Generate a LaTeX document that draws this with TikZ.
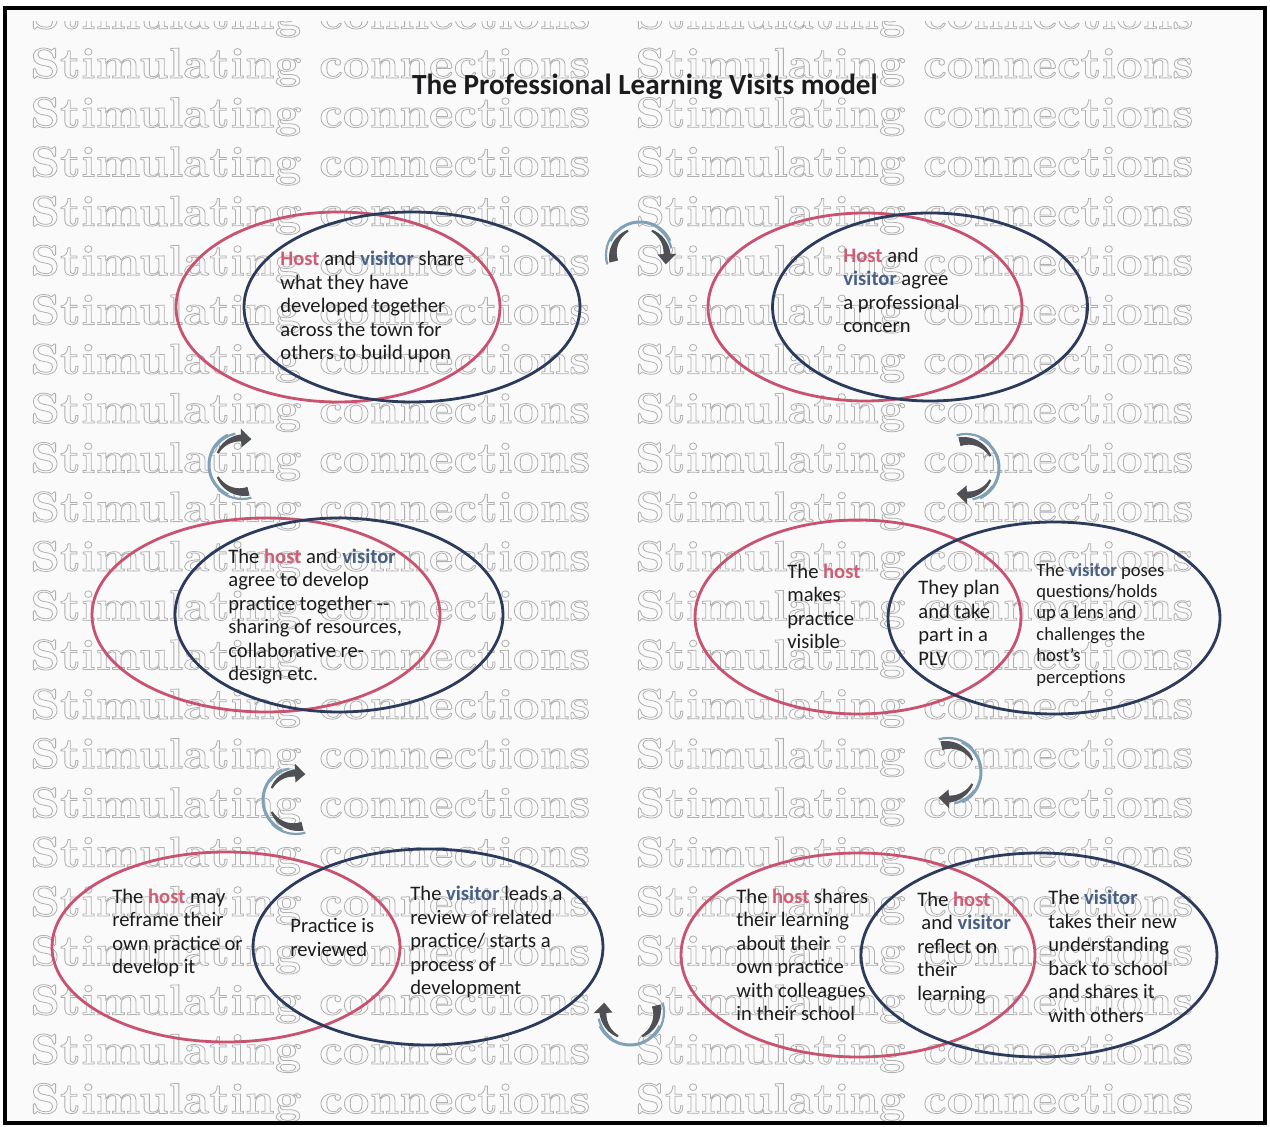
\documentclass[tikz,border=0pt]{standalone}
\usepackage{fontspec}
\usepackage{graphicx}
\usetikzlibrary{shapes.geometric,arrows.meta}
\newfontfamily\calfont{Carlito}

\definecolor{ringpink}{RGB}{201,82,112}
\definecolor{ringblue}{RGB}{44,58,92}
\definecolor{hostpink}{RGB}{208,92,118}
\definecolor{visblue}{RGB}{72,96,132}
\definecolor{inkblack}{RGB}{28,28,30}
\definecolor{wmgray}{RGB}{176,176,176}
\definecolor{arrdark}{RGB}{78,80,84}
\definecolor{arrlight}{RGB}{128,160,182}
\definecolor{paper}{RGB}{250,250,250}

% coloured key words
\newcommand\hostw[1]{{\bfseries\color{hostpink}#1}}
\newcommand\visw[1]{{\bfseries\color{visblue}#1}}
% stroked (hollow) lettering for the background band
\newcommand\hollowtext[1]{\special{pdf:literal direct 0.18 w 1 Tr}#1\special{pdf:literal direct 0 Tr}}

\tikzset{
  pinkring/.style={ellipse, draw=ringpink, line width=1.4pt, inner sep=0pt},
  bluering/.style={ellipse, draw=ringblue, line width=1.4pt, inner sep=0pt},
  body/.style={font=\calfont\fontsize{10.3}{11.75}\selectfont, align=left,
               inner sep=0pt, anchor=west, text=inkblack},
  smallbody/.style={body, font=\calfont\fontsize{9.3}{10.7}\selectfont},
  wmrow/.style={anchor=base west, inner sep=0pt, text=wmgray},
  % a half-turn ribbon arrow: tail at the upper right, head at the upper left
  cyclearrow/.pic={
    \draw[arrlight, line width=1.5pt] (205:33) arc (205:335:33);
    \draw[arrlight, line width=1.1pt] (16:34) arc (16:-45:34);
    \draw[arrlight, line width=1.1pt] (-125:32) arc (-125:-168:32);
    \fill[arrdark]
      plot[domain=14:-64, samples=25] (\x:{27+(9-7*(14-\x)/78)/2})
      -- plot[domain=-64:14, samples=25] (\x:{27-(9-7*(14-\x)/78)/2}) -- cycle;
    \fill[arrdark]
      plot[domain=-116:-178, samples=25] (\x:{27+(2+5*(-116-\x)/62)/2})
      -- (-178:36.5) -- (-200:27.5) -- (-178:17.5)
      -- plot[domain=-178:-116, samples=25] (\x:{27-(2+5*(-116-\x)/62)/2}) -- cycle;
  }
}

\begin{document}
\begin{tikzpicture}[x=0.5pt,y=0.5pt]
\useasboundingbox (0,0) rectangle (1270,-1127);
\fill[white] (0,0) rectangle (1270,-1127);
\fill[paper] (5,-8) rectangle (1265,-1123);

% background band of repeated lettering
\begin{scope}
  \clip (20,-22) rectangle (1250,-1120);
  \foreach \k in {0,...,22} {
    \pgfmathsetmacro\yb{-(63+49.3*(\k-1)+15)}
    \node[wmrow] (wmL\k) at (30,\yb)
      {\resizebox{280pt}{15pt}{\hollowtext{\rmfamily\bfseries Stimulating connections}}};
    \node[wmrow] (wmR\k) at (635,\yb)
      {\resizebox{279pt}{15pt}{\hollowtext{\rmfamily\bfseries Stimulating connections}}};
  }
\end{scope}

% frame
\draw[line width=1.6pt, black] (5,-8) rectangle (1265,-1123);

% title
\node[font=\calfont\bfseries\fontsize{14.6}{17}\selectfont, text=inkblack, inner sep=0pt]
  (title) at (645,-87) {The Professional Learning Visits model};

% rings
\node[pinkring, minimum width=162pt, minimum height=95pt] (r1p) at (338,-307) {};
\node[bluering, minimum width=168pt, minimum height=95pt] (r1b) at (412,-307) {};
\node[pinkring, minimum width=157pt, minimum height=94pt] (r2p) at (865,-307) {};
\node[bluering, minimum width=157.5pt, minimum height=94pt] (r2b) at (930,-307) {};
\node[pinkring, minimum width=174pt, minimum height=97pt] (r3p) at (266,-615) {};
\node[bluering, minimum width=164pt, minimum height=97pt] (r3b) at (339,-615) {};
\node[pinkring, minimum width=163pt, minimum height=97pt] (r4p) at (858,-617) {};
\node[bluering, minimum width=166pt, minimum height=96pt] (r4b) at (1054,-618) {};
\node[pinkring, minimum width=174pt, minimum height=95pt] (r5p) at (226,-947) {};
\node[bluering, minimum width=175pt, minimum height=98pt] (r5b) at (428,-947) {};
\node[pinkring, minimum width=177pt, minimum height=102pt] (r6p) at (858,-955) {};
\node[bluering, minimum width=178pt, minimum height=102pt] (r6b) at (1039,-955) {};

% texts
\node[body] (t1) at (280,-307) {\hostw{Host} and \visw{visitor} share\\what they have\\developed together\\across the town for\\others to build upon};
\node[body] (t2) at (843,-290.5) {\hostw{Host} and\\\visw{visitor} agree\\a professional\\concern};
\node[body] (t3) at (228,-616.5) {The \hostw{host} and \visw{visitor}\\agree to develop\\practice together --\\sharing of resources,\\collaborative re-\\design etc.};
\node[body] (t4a) at (787,-606.5) {The \hostw{host}\\makes\\practice\\visible};
\node[body] (t4b) at (918,-623) {They plan\\and take\\part in a\\PLV};
\node[smallbody] (t4c) at (1036,-624.5) {The \visw{visitor} poses\\questions/holds\\up a lens and\\challenges the\\host’s\\perceptions};
\node[body] (t5a) at (112,-933) {The \hostw{host} may\\reframe their\\own practice or\\develop it};
\node[body] (t5b) at (290,-937.5) {Practice is\\reviewed};
\node[body] (t5c) at (410,-942) {The \visw{visitor} leads a\\review of related\\practice/ starts a\\process of\\development};
\node[body] (t6a) at (736,-955) {The \hostw{host} shares\\their learning\\about their\\own practice\\with colleagues\\in their school};
\node[body] (t6b) at (917,-948) {The \hostw{host}\\\hspace*{2pt}and \visw{visitor}\\reflect on\\their\\learning};
\node[body] (t6c) at (1048,-956.5) {The \visw{visitor}\\takes their new\\understanding\\back to school\\and shares it\\with others};

% cycle arrows between the stages
\pic (a1) [rotate=180] at (640,-255) {cyclearrow};
\pic (a2) [rotate=90]  at (966,-468) {cyclearrow};
\pic (a3) [rotate=90]  at (948,-772) {cyclearrow};
\pic (a4)              at (630,-1012) {cyclearrow};
\pic (a5) [rotate=-90] at (296,-800) {cyclearrow};
\pic (a6) [rotate=-90] at (242,-465) {cyclearrow};
\end{tikzpicture}
\end{document}
